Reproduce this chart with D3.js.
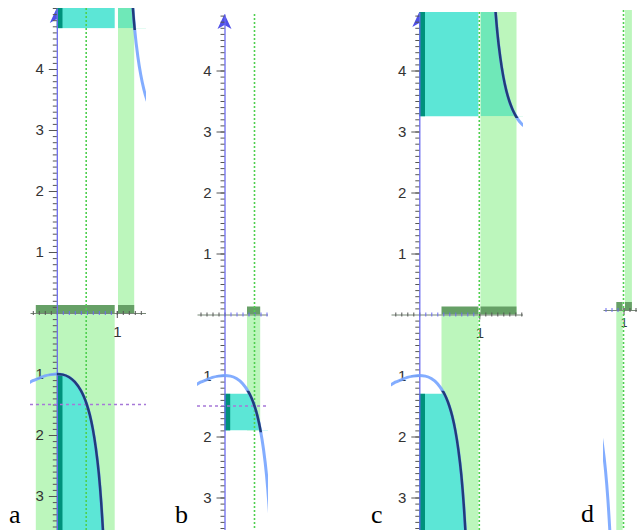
<!DOCTYPE html>
<html>
<head>
<meta charset="utf-8">
<script src="https://cdn.jsdelivr.net/npm/d3@7"></script>
<style>
  body { margin: 0; background: #fff; }
  svg { display: block; }
  .tick text { font-family: "Liberation Sans", Arial, sans-serif; fill: #333; }
</style>
</head>
<body>
<div id="chart"></div>
<script>
// curve samples (x, value), left and right of the asymptote x = 1
const leftBranchX = [-0.5, -0.4, -0.3, -0.2, -0.1, 0, 0.1, 0.2, 0.3, 0.4, 0.45, 0.5, 0.55, 0.6, 0.65, 0.7, 0.74, 0.78, 0.82];
const leftBranchY = [-1.17, -1.11, -1.07, -1.03, -1.01, -1.0, -1.01, -1.05, -1.13, -1.27, -1.37, -1.5, -1.67, -1.9, -2.21, -2.63, -3.11, -3.77, -4.74];
const rightBranchX = [1.18, 1.22, 1.26, 1.3, 1.35, 1.4, 1.45, 1.5, 1.55, 1.6, 1.65, 1.7, 1.76, 1.82];
const rightBranchY = [6.74, 5.77, 5.11, 4.63, 4.21, 3.9, 3.67, 3.5, 3.37, 3.27, 3.19, 3.13, 3.08, 3.04];

// one entry per panel a..d
const panelLetters = ["a", "b", "c", "d"];
const markerX = [0.49, 0.5, 1, 1];                 // green dotted verticals
const levelY = [-1.5, -1.5, null, null];           // purple dotted horizontals
const stripBelow = [[-0.35, 0.965], [0.375, 0.595], [0.37, 0.985], [0.88, 0.985]];
const stripAbove = [[1.02, 1.29], null, [1.02, 1.62], [1.025, 1.14]];
const bandUpper = [[4.67, 9], null, [3.25, 9], null];
const bandLower = [[-9, -1], [-1.9, -1.3], [-9, -1.3], null];
const yLabels = [4, 3, 2, 1, -1, -2, -3];
const xLabels = [1];

// --- layout (pixels)
const W = 637, H = 530, ux = 60, uy = 61;
const layout = [
  { x0: 56.8, left: 30, right: 146, top: 8, zero: 313, yAxis: true, font: 15, pad: 8, letterX: 9, letterY: 523 },
  { x0: 224.5, left: 197, right: 268, top: 14, zero: 314.5, yAxis: true, font: 15, pad: 8, letterX: 175, letterY: 523 },
  { x0: 419.3, left: 391, right: 523, top: 12, zero: 314.5, yAxis: true, font: 15, pad: 8, letterX: 371, letterY: 523 },
  { x0: 563.5, left: 603, right: 637, top: 10, zero: 310, yAxis: false, font: 12, pad: 3, letterX: 581, letterY: 522 }
];

const colors = {
  lightGreen: "#bcf6bc", cyan: "#5ce6d6", tealGreen: "#6fe8b8", darkTeal: "#00917c",
  darkGreen: "#66a066", navy: "#213c7a", lightBlue: "#76a4ff", axisBlue: "#6b6bf0",
  arrow: "#5050e8", tick: "#555", green: "#4fcf4f", purple: "#a678d8"
};

const leftPts = leftBranchX.map((v, k) => [v, leftBranchY[k]]);
const rightPts = rightBranchX.map((v, k) => [v, rightBranchY[k]]);

const svg = d3.select("#chart").append("svg").attr("width", W).attr("height", H);
const defs = svg.append("defs");

function addClip(id, x0, x1, y0, y1) {
  defs.append("clipPath").attr("id", id).append("rect")
    .attr("x", Math.min(x0, x1)).attr("y", Math.min(y0, y1))
    .attr("width", Math.abs(x1 - x0)).attr("height", Math.abs(y1 - y0));
  return `url(#${id})`;
}

layout.forEach((p, i) => {
  const x = d3.scaleLinear()
    .domain([(p.left - p.x0) / ux, (p.right - p.x0) / ux])
    .range([p.left, p.right]);
  const y = d3.scaleLinear()
    .domain([(p.zero - H) / uy, (p.zero - p.top) / uy])
    .range([H, p.top]);
  const [xMin, xMax] = x.domain();
  const [yMin, yMax] = y.domain();

  const panel = svg.append("g").attr("clip-path", addClip("panel" + i, p.left, p.right, p.top, H));
  const curveLine = d3.line().x(d => x(d[0])).y(d => y(d[1])).curve(d3.curveMonotoneX);

  const below = stripBelow[i], above = stripAbove[i];
  const upBand = bandUpper[i], lowBand = bandLower[i];

  // arrow on the y axis
  if (p.yAxis) {
    const tx = x(0), ty = p.top;
    panel.append("path")
      .attr("d", `M${tx},${ty} L${tx - 7},${ty + 15} L${tx},${ty + 11} L${tx + 7},${ty + 15} Z`)
      .attr("fill", colors.arrow);
  }

  // preimage strips
  const depth = lowBand ? Math.max(lowBand[0], yMin) : yMin;
  panel.append("rect")
    .attr("x", x(below[0])).attr("width", x(below[1]) - x(below[0]))
    .attr("y", y(0)).attr("height", y(depth) - y(0))
    .attr("fill", colors.lightGreen);
  if (above) {
    panel.append("rect")
      .attr("x", x(above[0])).attr("width", x(above[1]) - x(above[0]))
      .attr("y", y(yMax)).attr("height", y(0) - y(yMax))
      .attr("fill", colors.lightGreen);
  }

  // upper target set
  if (upBand) {
    panel.append("rect")
      .attr("x", x(0)).attr("width", x(below[1]) - x(0))
      .attr("y", y(yMax)).attr("height", y(upBand[0]) - y(yMax))
      .attr("fill", colors.cyan);
    panel.append("path")
      .datum([[above[0], 20]].concat(rightPts))
      .attr("d", d3.area().x(d => x(d[0])).y0(y(upBand[0])).y1(d => y(d[1])).curve(d3.curveMonotoneX))
      .attr("fill", colors.tealGreen)
      .attr("clip-path", addClip("up" + i, x(above[0]), p.right, y(upBand[0]), p.top));
    panel.append("rect")
      .attr("x", x(0)).attr("width", x(0.095) - x(0))
      .attr("y", y(yMax)).attr("height", y(upBand[0]) - y(yMax))
      .attr("fill", colors.darkTeal);
  }

  // lower target set
  if (lowBand) {
    const lo = Math.max(lowBand[0], yMin - 0.2);
    panel.append("path")
      .datum(leftPts.filter(d => d[0] >= 0))
      .attr("d", d3.area().x(d => x(d[0])).y0(y(lo)).y1(d => y(d[1])).curve(d3.curveMonotoneX))
      .attr("fill", colors.cyan)
      .attr("clip-path", addClip("low" + i, x(0), p.right, y(lowBand[1]), y(lo)));
    panel.append("rect")
      .attr("x", x(0)).attr("width", x(0.095) - x(0))
      .attr("y", y(lowBand[1])).attr("height", y(lo) - y(lowBand[1]))
      .attr("fill", colors.darkTeal);
  }

  // projection bars on the x axis
  [below, above].filter(s => s).forEach(s => {
    panel.append("rect")
      .attr("x", x(s[0])).attr("width", x(s[1]) - x(s[0]))
      .attr("y", y(0) - 8).attr("height", 8)
      .attr("fill", colors.darkGreen);
  });

  // x axis
  const minorX = d3.range(Math.ceil(xMin * 10), Math.floor(xMax * 10) + 1).map(k => k / 10);
  panel.append("g")
    .attr("transform", `translate(0,${y(0)})`)
    .call(d3.axisBottom(x).tickValues(minorX).tickSize(2).tickSizeOuter(0).tickFormat(""))
    .call(g => g.select(".domain").attr("stroke", "#778877"))
    .call(g => g.selectAll(".tick line").attr("y1", -2)
      .attr("stroke", d => (d > 0 && d < 1) ? colors.axisBlue : colors.tick));
  panel.append("g")
    .attr("transform", `translate(0,${y(0)})`)
    .call(d3.axisBottom(x).tickValues(xLabels.filter(v => v >= xMin && v <= xMax))
      .tickSize(5).tickPadding(p.pad).tickFormat(d3.format("d")))
    .call(g => g.select(".domain").remove())
    .call(g => g.selectAll(".tick line").attr("y1", -2).attr("stroke", colors.tick))
    .call(g => g.selectAll(".tick text").style("font-size", p.font + "px"));

  // y axis
  if (p.yAxis) {
    const minorY = d3.range(Math.ceil(yMin * 10), Math.floor(yMax * 10) + 1)
      .map(k => k / 10).filter(v => Math.abs(v) > 1e-9);
    panel.append("g")
      .attr("transform", `translate(${x(0)},0)`)
      .call(d3.axisLeft(y).tickValues(minorY).tickSize(4).tickSizeOuter(0).tickFormat(""))
      .call(g => g.select(".domain").attr("stroke", colors.axisBlue).attr("stroke-width", 1.3))
      .call(g => g.selectAll(".tick line").attr("stroke", colors.tick));
    panel.append("g")
      .attr("transform", `translate(${x(0)},0)`)
      .call(d3.axisLeft(y).tickValues(yLabels).tickSize(8).tickPadding(5).tickFormat(d => Math.abs(d)))
      .call(g => g.select(".domain").remove())
      .call(g => g.selectAll(".tick line").attr("stroke", colors.tick))
      .call(g => g.selectAll(".tick text").style("font-size", p.font + "px"));
  }

  // dotted guides
  panel.append("line")
    .attr("x1", x(markerX[i])).attr("x2", x(markerX[i]))
    .attr("y1", p.top).attr("y2", H)
    .attr("stroke", colors.green).attr("stroke-width", 1.6).attr("stroke-dasharray", "2,2");
  if (levelY[i] != null) {
    panel.append("line")
      .attr("x1", p.left).attr("x2", p.right)
      .attr("y1", y(levelY[i])).attr("y2", y(levelY[i]))
      .attr("stroke", colors.purple).attr("stroke-width", 1.5).attr("stroke-dasharray", "3,3");
  }

  // function graph
  [leftPts, rightPts].forEach(pts => {
    panel.append("path").datum(pts).attr("d", curveLine)
      .attr("fill", "none").attr("stroke", colors.lightBlue)
      .attr("stroke-width", 3).attr("stroke-opacity", 0.9);
  });
  if (upBand) {
    panel.append("path").datum(rightPts).attr("d", curveLine)
      .attr("fill", "none").attr("stroke", colors.navy).attr("stroke-width", 2.5)
      .attr("clip-path", addClip("navyUp" + i, x(above[0]), p.right, y(upBand[0] - 0.03), p.top - 5));
  }
  if (lowBand) {
    panel.append("path").datum(leftPts).attr("d", curveLine)
      .attr("fill", "none").attr("stroke", colors.navy).attr("stroke-width", 2.5)
      .attr("clip-path", addClip("navyLow" + i, x(0), p.right, y(lowBand[1] + 0.05),
        y(Math.max(lowBand[0], yMin - 0.2) - 0.03)));
  }

  // panel letter
  svg.append("text")
    .attr("x", p.letterX).attr("y", p.letterY)
    .attr("font-family", "'Liberation Serif', 'Times New Roman', serif")
    .attr("font-size", 26)
    .attr("fill", "#000")
    .text(panelLetters[i]);
});
</script>
</body>
</html>
